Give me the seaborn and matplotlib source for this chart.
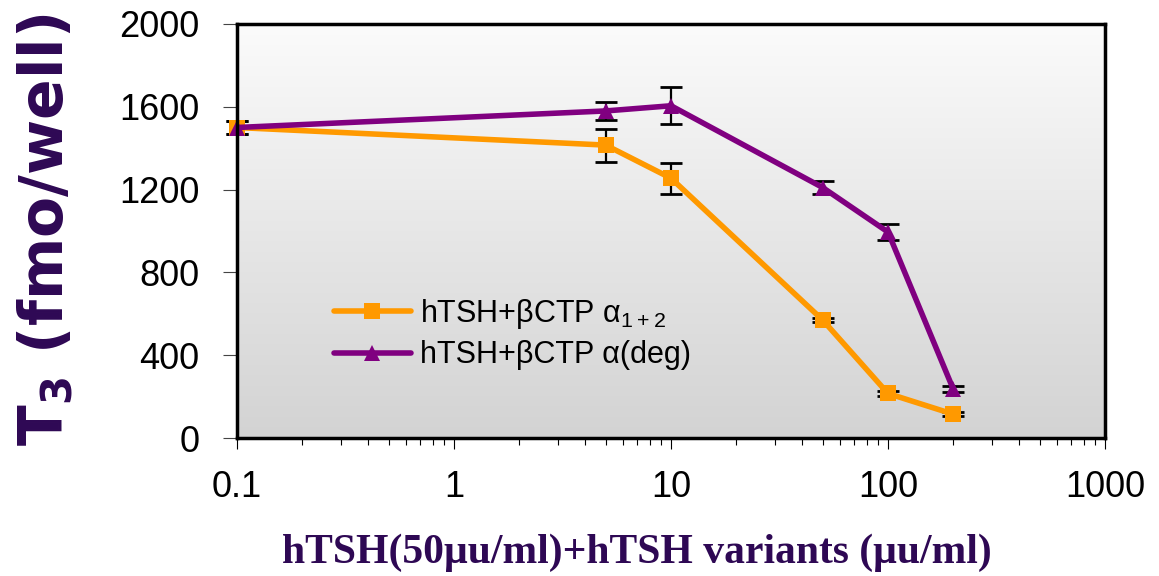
import numpy as np
import pandas as pd
import matplotlib
matplotlib.use('Agg')
import matplotlib.pyplot as plt
import seaborn as sns

# data
dose = [0.1, 5, 10, 50, 100, 200]
t3_a12 = [1500, 1415, 1255, 570, 215, 115]
err_a12 = [30, 80, 75, 10, 10, 10]
t3_deg = [1500, 1580, 1605, 1210, 995, 235]
err_deg = [30, 45, 90, 30, 40, 15]
labels = ['hTSH+\u03b2CTP \u03b1$_{1+2}$', 'hTSH+\u03b2CTP \u03b1(deg)']
colors = ['#FF9900', '#800080']

df = pd.DataFrame({
    'dose': dose * 2,
    'T3': t3_a12 + t3_deg,
    'variant': [labels[0]] * len(dose) + [labels[1]] * len(dose),
})

sns.set_style('white')
plt.rcParams['font.family'] = ['Liberation Sans', 'DejaVu Sans']
plt.rcParams['mathtext.fontset'] = 'dejavusans'
plt.rcParams['mathtext.default'] = 'regular'

fig = plt.figure(figsize=(11.59, 5.76), dpi=100)
ax = fig.add_axes([237 / 1159, 1 - 438 / 576, 868 / 1159, 414 / 576])

# grey gradient background
grad = np.linspace(0, 1, 256).reshape(-1, 1)
ax.imshow(grad, extent=[0, 1, 0, 1], transform=ax.transAxes, aspect='auto',
          cmap=matplotlib.colors.LinearSegmentedColormap.from_list('g', ['#fbfbfb', '#d3d3d3']),
          zorder=0)

for y, e in [(t3_a12, err_a12), (t3_deg, err_deg)]:
    ax.errorbar(dose, y, yerr=e, fmt='none', ecolor='black', elinewidth=1.6,
                capsize=8, capthick=2, zorder=2, clip_on=False)

sns.lineplot(data=df, x='dose', y='T3', hue='variant', style='variant',
             palette=colors, markers=['s', '^'], dashes=False, linewidth=4,
             markersize=12, markeredgewidth=0, ax=ax, zorder=3, clip_on=False)

ax.set_xscale('log')
ax.set_xlim(0.1, 1000)
ax.set_ylim(0, 2000)
ax.set_yticks([0, 400, 800, 1200, 1600, 2000])
ax.set_xticks([0.1, 1, 10, 100, 1000])
ax.set_xticklabels(['0.1', '1', '10', '100', '1000'])
ax.tick_params(axis='x', which='major', direction='out', length=8, width=0.8,
               pad=15, labelsize=26, bottom=True, labelcolor='black', color='black')
ax.tick_params(axis='x', which='minor', direction='out', length=5, width=0.8,
               bottom=True, color='black')
ax.tick_params(axis='y', direction='out', length=10, width=0.8, pad=17,
               labelsize=26, left=True, color='#444444', labelcolor='black')
for s in ax.spines.values():
    s.set_color('black')
    s.set_linewidth(2.5)
    s.set_visible(True)
    s.set_zorder(5)
ax.set_xlabel('')
ax.set_ylabel('')

leg = ax.legend(loc='upper left', bbox_to_anchor=(0.098, 0.37), frameon=False,
                fontsize=22, handlelength=2.5, labelspacing=0.3, handletextpad=0.3,
                borderaxespad=0, labelcolor='black')

fig.text(47 / 1159, 1 - 230 / 576, r'T$_\mathbf{3}$ (fmo/well)', rotation=90,
         ha='center', va='center', fontsize=43, fontweight='bold',
         color='#2E0854', family='DejaVu Sans')
fig.text(637 / 1159, 1 - 553 / 576, 'hTSH(50\u03bcu/ml)+hTSH variants (\u03bcu/ml)',
         ha='center', va='center', fontsize=30, fontweight='bold',
         color='#2E0854', family='Liberation Serif')

fig.savefig('out.png', dpi=100)
